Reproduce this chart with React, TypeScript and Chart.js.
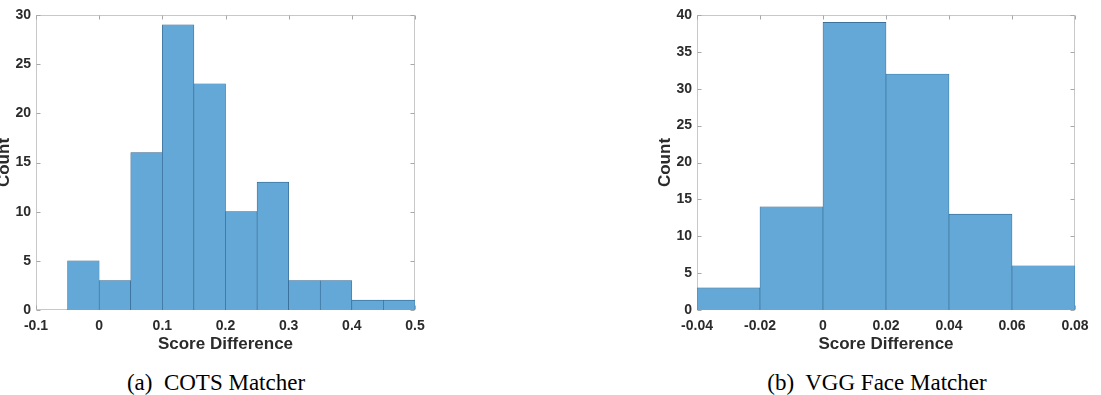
import React, { useEffect, useRef } from 'react';
import { Chart, registerables } from 'chart.js';

Chart.register(...registerables);

// ---- Data: (a) COTS Matcher ----
const binCentersA = [-0.025, 0.025, 0.075, 0.125, 0.175, 0.225, 0.275, 0.325, 0.375, 0.425, 0.475];
const countsA = [5, 3, 16, 29, 23, 10, 13, 3, 3, 1, 1];
const xTickValuesA = [-0.1, 0, 0.1, 0.2, 0.3, 0.4, 0.5];
const xTickLabelsA = ['-0.1', '0', '0.1', '0.2', '0.3', '0.4', '0.5'];
const yTickValuesA = [0, 5, 10, 15, 20, 25, 30];

// ---- Data: (b) VGG Face Matcher ----
const binCentersB = [-0.03, -0.01, 0.01, 0.03, 0.05, 0.07];
const countsB = [3, 14, 39, 32, 13, 6];
const xTickValuesB = [-0.04, -0.02, 0, 0.02, 0.04, 0.06, 0.08];
const xTickLabelsB = ['-0.04', '-0.02', '0', '0.02', '0.04', '0.06', '0.08'];
const yTickValuesB = [0, 5, 10, 15, 20, 25, 30, 35, 40];

const xTitle = 'Score Difference';
const yTitle = 'Count';
const captionA = '(a)  COTS Matcher';
const captionB = '(b)  VGG Face Matcher';

const SANS = '"Liberation Sans", Arial, Helvetica, sans-serif';
const SERIF = '"Liberation Serif", "Times New Roman", Times, serif';
const TEXT_COLOR = '#2b2b2b';
const FILL = '#63a8d7';
const EDGE = '#2f6088';

const boxPlugin = {
  id: 'matlabBox',
  beforeDatasetsDraw(chart: any) {
    const { ctx, chartArea: a, scales } = chart;
    const l = Math.round(a.left) + 0.5;
    const r = Math.round(a.right) - 0.5;
    const t = Math.round(a.top) + 0.5;
    const b = Math.round(a.bottom) - 0.5;
    ctx.save();
    ctx.lineWidth = 1;
    ctx.strokeStyle = '#c8c8c8';
    ctx.strokeRect(l, t, r - l, b - t);
    ctx.strokeStyle = '#a8a8a8';
    ctx.beginPath();
    const tl = 4;
    scales.x.ticks.forEach((tk: any) => {
      const px = Math.round(scales.x.getPixelForValue(tk.value)) + 0.5;
      ctx.moveTo(px, b);
      ctx.lineTo(px, b - tl);
      ctx.moveTo(px, t);
      ctx.lineTo(px, t + tl);
    });
    scales.y.ticks.forEach((tk: any) => {
      const py = Math.round(scales.y.getPixelForValue(tk.value)) + 0.5;
      ctx.moveTo(l, py);
      ctx.lineTo(l + tl, py);
      ctx.moveTo(r, py);
      ctx.lineTo(r - tl, py);
    });
    ctx.stroke();
    ctx.restore();
  },
};

type HistProps = {
  centers: number[];
  counts: number[];
  xTicks: number[];
  xLabels: string[];
  yTicks: number[];
  left: number;
  width: number;
  yAxisWidth: number;
  yTitlePad: number;
  padRight: number;
};

function Histogram(p: HistProps) {
  const ref = useRef<HTMLCanvasElement | null>(null);
  useEffect(() => {
    if (!ref.current) return;
    const chart = new Chart(ref.current, {
      type: 'bar',
      data: {
        datasets: [
          {
            data: p.centers.map((c, i) => ({ x: c, y: p.counts[i] })),
            backgroundColor: FILL,
            borderColor: EDGE,
            borderWidth: 0.6,
            borderSkipped: 'bottom',
            barPercentage: 1,
            categoryPercentage: 1,
          } as any,
        ],
      },
      options: {
        responsive: false,
        animation: false,
        devicePixelRatio: 1,
        layout: { padding: { top: 15, right: p.padRight, bottom: 0, left: 0 } },
        plugins: {
          legend: { display: false },
          tooltip: { enabled: false },
          title: { display: false },
        },
        scales: {
          x: {
            type: 'linear',
            min: p.xTicks[0],
            max: p.xTicks[p.xTicks.length - 1],
            offset: false,
            grid: { display: false, drawTicks: false },
            border: { display: false },
            afterBuildTicks: (s: any) => {
              s.ticks = p.xTicks.map((v) => ({ value: v }));
            },
            afterFit: (s: any) => {
              s.height = 50;
            },
            ticks: {
              autoSkip: false,
              maxRotation: 0,
              minRotation: 0,
              padding: 8,
              color: TEXT_COLOR,
              font: { family: SANS, size: 14, weight: 'bold' },
              callback: (_v: any, i: number) => p.xLabels[i],
            },
            title: {
              display: true,
              text: xTitle,
              color: TEXT_COLOR,
              font: { family: SANS, size: 17, weight: 'bold' },
              padding: { top: 0, bottom: 5 },
            },
          },
          y: {
            type: 'linear',
            min: p.yTicks[0],
            max: p.yTicks[p.yTicks.length - 1],
            grid: { display: false, drawTicks: false },
            border: { display: false },
            afterBuildTicks: (s: any) => {
              s.ticks = p.yTicks.map((v) => ({ value: v }));
            },
            afterFit: (s: any) => {
              s.width = p.yAxisWidth;
            },
            ticks: {
              autoSkip: false,
              padding: 5,
              color: TEXT_COLOR,
              font: { family: SANS, size: 14, weight: 'bold' },
              callback: (v: any) => String(v),
            },
            title: {
              display: true,
              text: yTitle,
              color: TEXT_COLOR,
              font: { family: SANS, size: 17, weight: 'bold' },
              padding: { top: p.yTitlePad, bottom: 0 },
            },
          },
        },
      } as any,
      plugins: [boxPlugin],
    });
    return () => chart.destroy();
  }, []);
  return (
    <canvas
      ref={ref}
      width={p.width}
      height={360}
      style={{ position: 'absolute', left: p.left, top: 0, width: p.width, height: 360 }}
    />
  );
}

function Caption({ text, center }: { text: string; center: number }) {
  return (
    <div
      style={{
        position: 'absolute',
        left: center - 200,
        width: 400,
        top: 369,
        height: 28,
        lineHeight: '28px',
        textAlign: 'center',
        fontFamily: SERIF,
        fontSize: 23,
        color: '#000',
        whiteSpace: 'pre',
      }}
    >
      {text}
    </div>
  );
}

export default function App() {
  return (
    <div
      style={{
        position: 'fixed',
        left: 0,
        top: 0,
        width: 1101,
        height: 395,
        background: '#fff',
        overflow: 'hidden',
      }}
    >
      <Histogram
        centers={binCentersA}
        counts={countsA}
        xTicks={xTickValuesA}
        xLabels={xTickLabelsA}
        yTicks={yTickValuesA}
        left={-10}
        width={460}
        yAxisWidth={46}
        yTitlePad={4}
        padRight={35}
      />
      <Histogram
        centers={binCentersB}
        counts={countsB}
        xTicks={xTickValuesB}
        xLabels={xTickLabelsB}
        yTicks={yTickValuesB}
        left={620}
        width={481}
        yAxisWidth={77}
        yTitlePad={35}
        padRight={26}
      />
      <Caption text={captionA} center={216} />
      <Caption text={captionB} center={877} />
    </div>
  );
}
